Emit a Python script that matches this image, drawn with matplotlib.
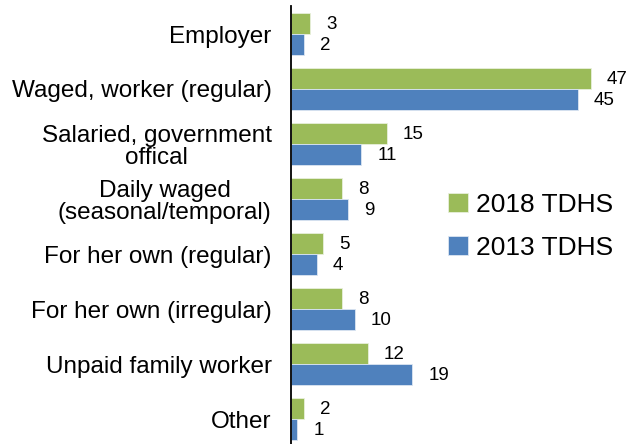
import matplotlib
matplotlib.use("Agg")
import matplotlib.pyplot as plt
import numpy as np

plt.rcParams['font.family'] = ['Liberation Sans', 'DejaVu Sans']

categories = ["Employer", "Waged, worker (regular)", "Salaried, government\noffical",
              "Daily waged\n(seasonal/temporal)", "For her own (regular)",
              "For her own (irregular)", "Unpaid family worker", "Other"]
tdhs_2018 = [3, 47, 15, 8, 5, 8, 12, 2]
tdhs_2013 = [2, 45, 11, 9, 4, 10, 19, 1]
series_labels = ["2018 TDHS", "2013 TDHS"]

green = "#9BBB59"
blue = "#4F81BD"

W, H = 634, 444
fig = plt.figure(figsize=(W/100, H/100), dpi=100)
ax_left = 291 / W
ax = fig.add_axes([ax_left, 0, 1 - ax_left, 1 - 6.5 / H])

y = np.arange(len(categories))
bh = 0.38
b1 = ax.barh(y - bh/2, tdhs_2018, height=bh, color=green, edgecolor="#e8f0dc", linewidth=0.6, label=series_labels[0])
b2 = ax.barh(y + bh/2, tdhs_2013, height=bh, color=blue, edgecolor="#dce6f2", linewidth=0.6, label=series_labels[1])

ax.set_xlim(0, (W - 291) / 6.38)
ax.set_ylim((444 - 34) / 55, -0.5)

for bars in (b1, b2):
    for rect in bars:
        v = rect.get_width()
        ax.annotate(f"{v:g}", xy=(v, rect.get_y() + rect.get_height()/2),
                    xytext=(16, -1), textcoords="offset pixels",
                    ha="left", va="center", fontsize=13.5, color="black")

ax.set_yticks(y)
ax.set_yticklabels(categories, fontsize=17.5, linespacing=1.05, multialignment="center")
ax.tick_params(axis="y", length=0, pad=14)
ax.set_xticks([])
for s in ["top", "right", "bottom"]:
    ax.spines[s].set_visible(False)
ax.spines["left"].set_linewidth(1.3)
ax.spines["left"].set_color("black")

leg = fig.legend(handles=[b1, b2], labels=series_labels, loc="center left",
                 bbox_to_anchor=(448 / W, 1 - 226 / H), frameon=False,
                 fontsize=19, handlelength=0.75, handleheight=0.75,
                 handletextpad=0.3, labelspacing=0.72, borderaxespad=0, borderpad=0)

fig.savefig("out.png", dpi=100)
